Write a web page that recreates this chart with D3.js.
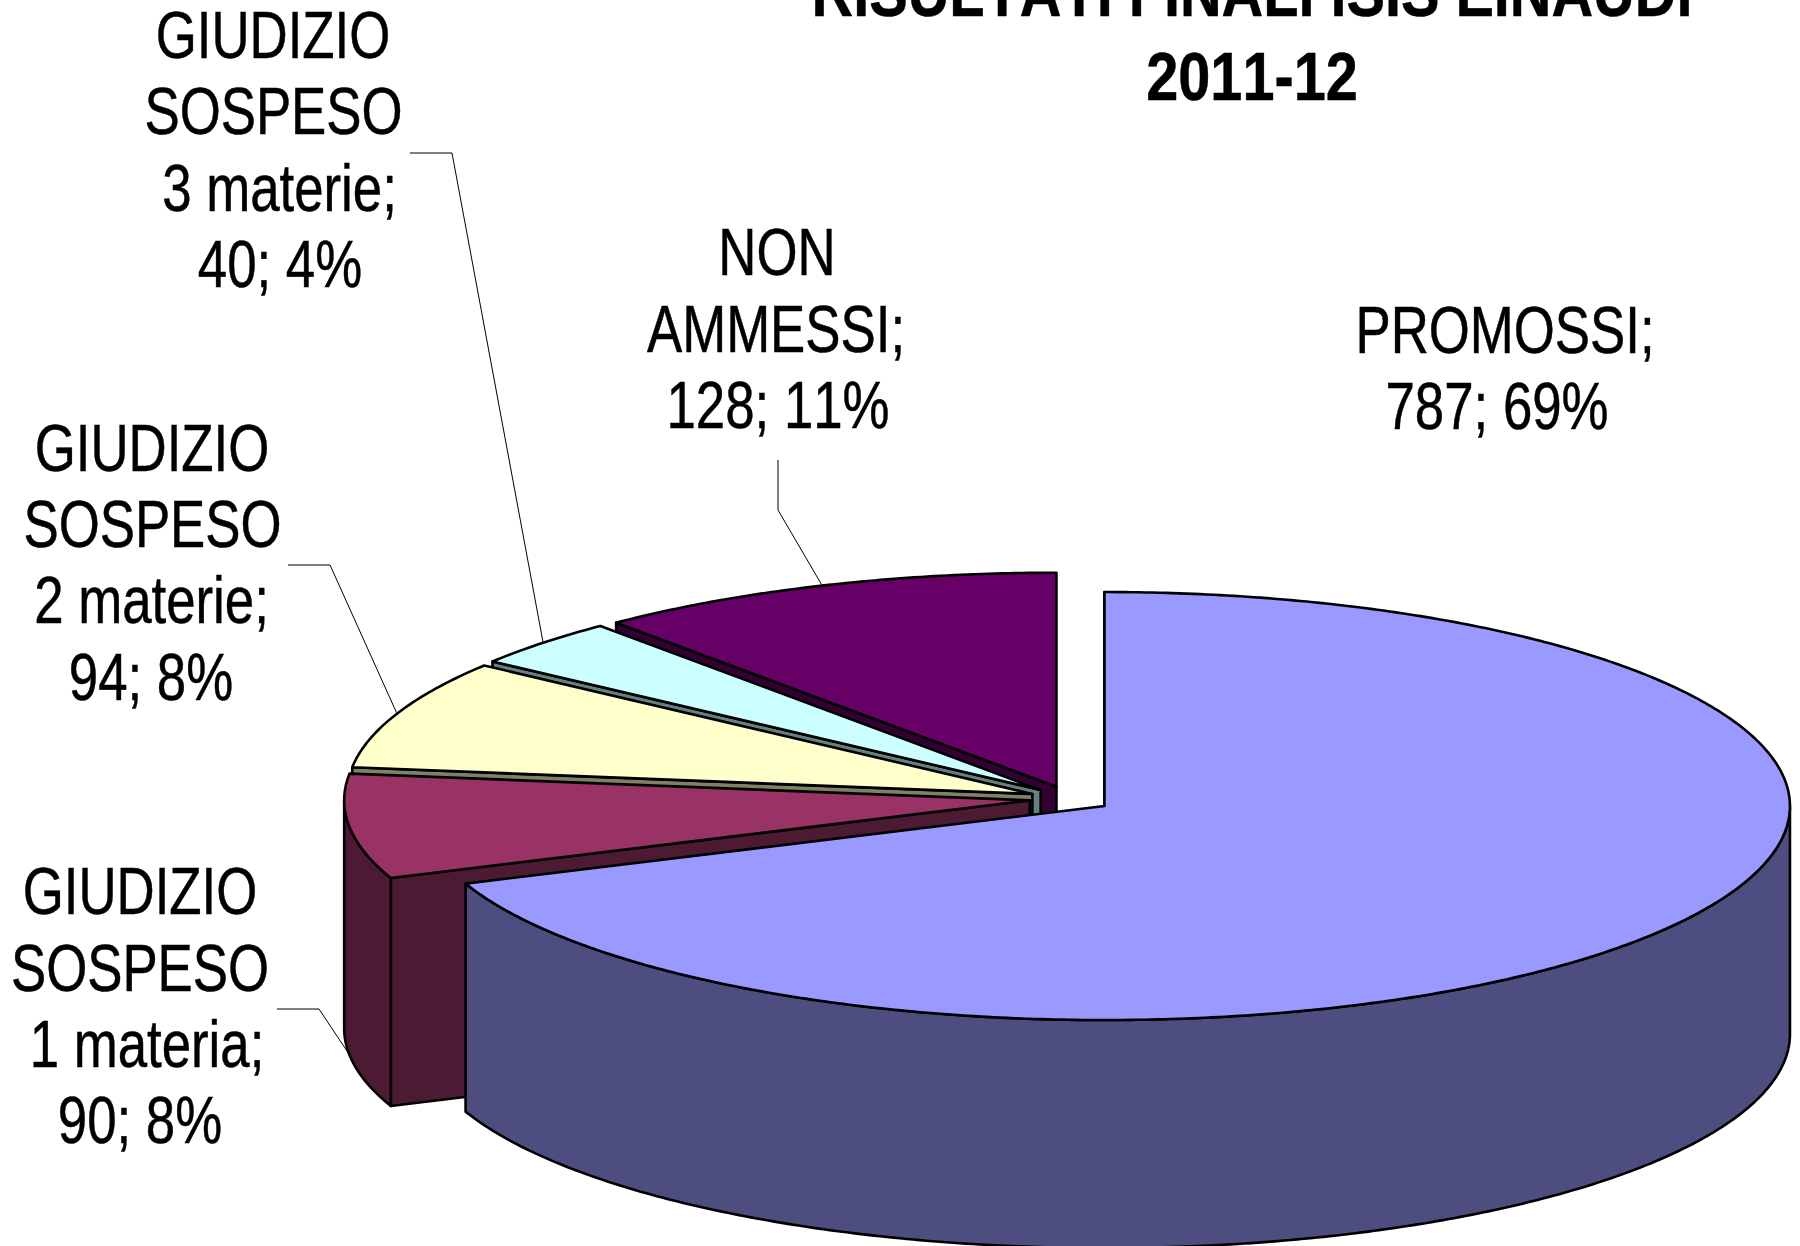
<!DOCTYPE html>
<html>
<head>
<meta charset="utf-8">
<title>Risultati finali ISIS Einaudi 2011-12</title>
<script src="https://cdn.jsdelivr.net/npm/d3@7"></script>
<style>
  html, body { margin: 0; padding: 0; background: #fff; }
  svg { display: block; }
  text { font-family: "Liberation Sans", Arial, sans-serif; fill: #000; stroke: #000; stroke-width: 0.5; font-kerning: none; }
</style>
</head>
<body>
<div id="vis"></div>
<script>

var titleLines = ['RISULTATI FINALI ISIS EINAUDI', '2011-12'];

var categories = ['PROMOSSI', 'GIUDIZIO SOSPESO 1 materia', 'GIUDIZIO SOSPESO 2 materie', 'GIUDIZIO SOSPESO 3 materie', 'NON AMMESSI'];
var values = [787, 90, 94, 40, 128];
var percents = ['69%', '8%', '8%', '4%', '11%'];

var topColors = ['#9999ff', '#993366', '#ffffcc', '#ccffff', '#660066'];
var sideColors = ['#4d4d80', '#4d1a33', '#808066', '#668080', '#330033'];

var width = 1800;
var height = 1246;

// ellipse of the tilted pie and how far the slices are pulled out
var centerX = 1070.5;
var centerY = 798.8;
var radiusX = 685.5;
var radiusY = 214;
var depth = 228;
var explode = 0.06;

// the original draws the 3 materie / non ammessi edge about half a degree later
var lastEdgeShift = 0.0086;

var labelScale = 0.8;
var labelSize = 66;
var titleScale = 0.848;
var titleSize = 68;

// text lines per slice: [centre x, baseline y, text]
function labelLines(i) {
  var value = values[i] + '; ' + percents[i];
  if (i === 0) return [[1505, 353, categories[0] + ';'], [1497, 429, value]];
  if (i === 4) return [[777, 275, 'NON'], [776, 352, 'AMMESSI;'], [778, 428, value]];
  var layout = {
    1: [[140, 914], [140, 991], [147, 1067], [140, 1143]],
    2: [[152, 471], [152.5, 547], [151.5, 623], [151, 700]],
    3: [[273, 58], [273.5, 134], [279.5, 211], [280, 287]]
  }[i];
  var words = categories[i].split(' ');
  var texts = [words[0], words[1], words[2] + ' ' + words[3] + ';', value];
  return texts.map(function(t, k) { return [layout[k][0], layout[k][1], t]; });
}

// elbow of each leader, the far end is found on the slice rim
var leaderStarts = {
  1: [[277, 1009], [319, 1009]],
  2: [[288, 565], [330, 565]],
  3: [[410, 153], [452, 153]],
  4: [[778, 460], [778, 510]]
};

var pie = d3.pie().sort(null).value(function(d) { return d; });

var slices = pie(values).map(function(d, i) {
  var start = d.startAngle + (i === 4 ? lastEdgeShift : 0);
  var end = d.endAngle + (i === 3 ? lastEdgeShift : 0);
  var mid = (start + end) / 2;
  return {
    index: i,
    start: start,
    end: end,
    mid: mid,
    x: centerX + Math.sin(mid) * explode * radiusX,
    y: centerY - Math.cos(mid) * explode * radiusY
  };
});

function rimPoint(s, angle, drop) {
  return [s.x + Math.sin(angle) * radiusX, s.y - Math.cos(angle) * radiusY + (drop || 0)];
}

function arcPoints(s, from, to, drop) {
  var steps = Math.max(2, Math.ceil(Math.abs(to - from) / 0.01));
  return d3.range(steps + 1).map(function(k) {
    return rimPoint(s, from + (to - from) * k / steps, drop);
  });
}

var line = d3.line();

function topPath(s) {
  return line([[s.x, s.y]].concat(arcPoints(s, s.start, s.end))) + 'Z';
}

function startFacePath(s) {
  var rim = rimPoint(s, s.start);
  return line([[s.x, s.y], rim, [rim[0], rim[1] + depth], [s.x, s.y + depth]]) + 'Z';
}

// outer wall only exists on the front half of the ellipse
function wallPath(s) {
  var from = Math.max(s.start, Math.PI / 2);
  var to = Math.min(s.end, Math.PI * 1.5);
  if (to <= from) return null;
  return line(arcPoints(s, from, to).concat(arcPoints(s, to, from, depth))) + 'Z';
}

var svg = d3.select('#vis')
  .append('svg')
  .attr('width', width)
  .attr('height', height);

// leaders go first, the wall of the pie hides the end of the lowest one
var leaders = svg.append('g');
Object.keys(leaderStarts).forEach(function(key) {
  var s = slices[+key];
  var onWall = s.mid > Math.PI / 2 && s.mid < Math.PI * 1.5;
  var end = rimPoint(s, s.mid, onWall ? depth : 0);
  leaders.append('path')
    .attr('d', line(leaderStarts[key].concat([end])))
    .attr('fill', 'none')
    .attr('stroke', '#000')
    .attr('stroke-width', 1);
});

// painter order: back slice first, promossi last
var order = [4, 3, 2, 1, 0];

var pieGroup = svg.append('g')
  .attr('stroke', '#000')
  .attr('stroke-width', 2.6)
  .attr('stroke-linejoin', 'round');

order.forEach(function(i) {
  var s = slices[i];
  var g = pieGroup.append('g').attr('class', 'slice');
  g.append('path')
    .attr('d', startFacePath(s))
    .attr('fill', sideColors[i]);
  var wall = wallPath(s);
  if (wall) {
    g.append('path')
      .attr('d', wall)
      .attr('fill', sideColors[i]);
  }
  g.append('path')
    .attr('d', topPath(s))
    .attr('fill', topColors[i]);
});

svg.selectAll('.title')
  .data(titleLines)
  .enter().append('text')
  .attr('class', 'title')
  .attr('text-anchor', 'middle')
  .attr('font-size', titleSize)
  .attr('font-weight', 'bold')
  .attr('transform', function(d, i) {
    return 'translate(1252,' + (i === 0 ? 16 : 100) + ') scale(' + titleScale + ',1)';
  })
  .text(function(d) { return d; });

slices.forEach(function(s) {
  svg.selectAll('.label' + s.index)
    .data(labelLines(s.index))
    .enter().append('text')
    .attr('class', 'label' + s.index)
    .attr('text-anchor', 'middle')
    .attr('font-size', labelSize)
    .attr('transform', function(d) {
      return 'translate(' + d[0] + ',' + d[1] + ') scale(' + labelScale + ',1)';
    })
    .text(function(d) { return d[2]; });
});

</script>
</body>
</html>
